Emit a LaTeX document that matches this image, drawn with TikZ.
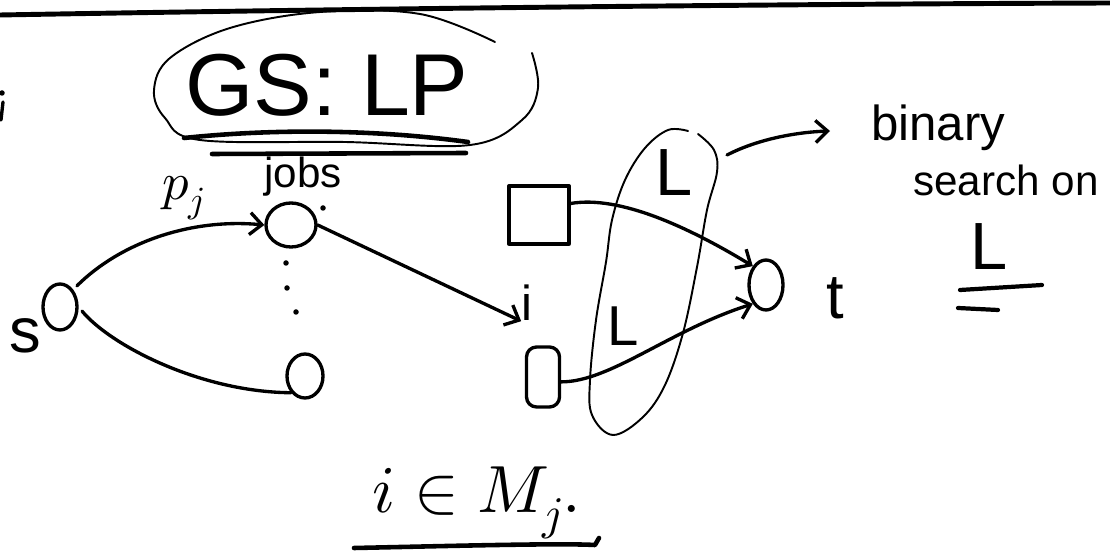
\documentclass[tikz,border=0pt]{standalone}
\usepackage{unicode-math}
\setmainfont{Liberation Sans}
\usetikzlibrary{arrows.meta,calc,shapes.geometric,positioning}

\begin{document}
\begin{tikzpicture}[x=0.2mm, y=-0.2mm, line cap=round, line join=round]
    \useasboundingbox (0,0) rectangle (1110,554);

    \tikzset{
        pen/.style={draw=black, line width=1.9pt},
        thinpen/.style={draw=black, line width=1.1pt},
        edge/.style={pen, -{Straight Barb[length=2.4mm,width=4.4mm]}},
        vertex/.style={ellipse, draw=black, line width=1.9pt, inner sep=0pt},
        machine/.style={rectangle, draw=black, line width=1.9pt, inner sep=0pt},
        hand/.style={inner sep=0pt, font=\fontsize{#1}{#1}\selectfont},
        dotmark/.style={circle, fill=black, inner sep=0pt, minimum size=1.1mm}
    }

    % Top rule and the cut letter on the left edge
    \draw[line width=2.8pt] (0,15) .. controls (400,8) and (800,4) .. (1110,3);
    \node[dotmark] (cut) at (2,93) {};
    \draw[pen] (3,102) -- (1,120);

    % Title, ringed and underlined
    \node[hand=50] (gs) at (327,85) {GS:\ LP};
    \draw[thinpen] plot[smooth, tension=0.6] coordinates {(532,53) (538,88) (522,120) (470,145) (345,142)
        (200,140) (165,118) (154,90) (170,58) (230,28) (320,12) (420,14) (495,42)};
    \draw[line width=2.6pt] (184,138) .. controls (280,128) and (380,130) .. (468,142);
    \draw[line width=2.6pt] (212,154) -- (466,153);

    % Source, jobs, machines, sink
    \node[vertex, minimum width=6.8mm, minimum height=9.2mm] (s) at (60,307) {};
    \node[vertex, minimum width=10mm, minimum height=8.8mm] (job1) at (291,225) {};
    \node[vertex, minimum width=7.2mm, minimum height=8.8mm] (job2) at (305,376) {};
    \node[machine, minimum width=12mm, minimum height=11.6mm] (m1) at (539,215) {};
    \node[machine, rounded corners=2mm, minimum width=6.6mm, minimum height=12mm] (m2) at (543,377) {};
    \node[vertex, minimum width=6.8mm, minimum height=10mm] (t) at (766,285) {};

    % Dots between the jobs
    \foreach \p [count=\k] in {(286,263),(287,288),(296,312),(323,208)}
        \node[dotmark] (dot\k) at \p {};

    % Labels
    \node[hand=36] (slbl) at (25,336) {s};
    \node[hand=36] (tlbl) at (835,298) {t};
    \node[hand=24] (jobs) at (303,177) {jobs};
    \node[hand=30] (pj) at (184,198) {$p_j$};
    \node[hand=28] (mi) at (527,303) {i};

    % Edges
    \draw[edge, shorten <=3pt] (s.north east) .. controls (120,243) and (190,218) .. (job1.west);
    \draw[pen, shorten <=3pt] (s.east) .. controls (110,345) and (200,392) .. (job2.south west);
    \draw[edge] (job1.east) -- (mi.south west);
    \draw[edge] (m1.20) .. controls (620,195) and (690,228) .. (t.north west);
    \draw[edge] (m2.-15) .. controls (610,382) and (670,330) .. (t.south west);

    % Capacity ring on the sink edges
    \draw[thinpen] plot[smooth, tension=0.6] coordinates {(698,134) (714,150) (717,172) (707,210) (697,267)
        (683,333) (665,385) (643,417) (613,435) (592,415) (590,380) (596,320) (606,262) (612,220)
        (625,180) (645,148) (668,130) (688,131)};
    \node[hand=38] (lup) at (674,173) {L};
    \node[hand=32] (llow) at (623,326) {L};

    % Binary search note
    \coordinate (ring) at (727,155);
    \coordinate (tip) at (830,131);
    \draw[edge] (ring) .. controls (760,138) and (800,132) .. (tip);
    \node[hand=28] (bin) at (938,128) {binary};
    \node[hand=24] (srch) at (1006,180) {search on};
    \node[hand=38] (lbig) at (989,247) {L};
    \draw[line width=2.4pt] (960,290) -- (1042,285);
    \draw[line width=2.4pt] (958,308) -- (998,310);

    % Condition
    \node[hand=38] (cond) at (477,503) {$i\in M_j.$};
    \draw[line width=2.6pt] (354,548) .. controls (450,546) and (560,543) .. (595,545) -- (599,538);
\end{tikzpicture}
\end{document}
